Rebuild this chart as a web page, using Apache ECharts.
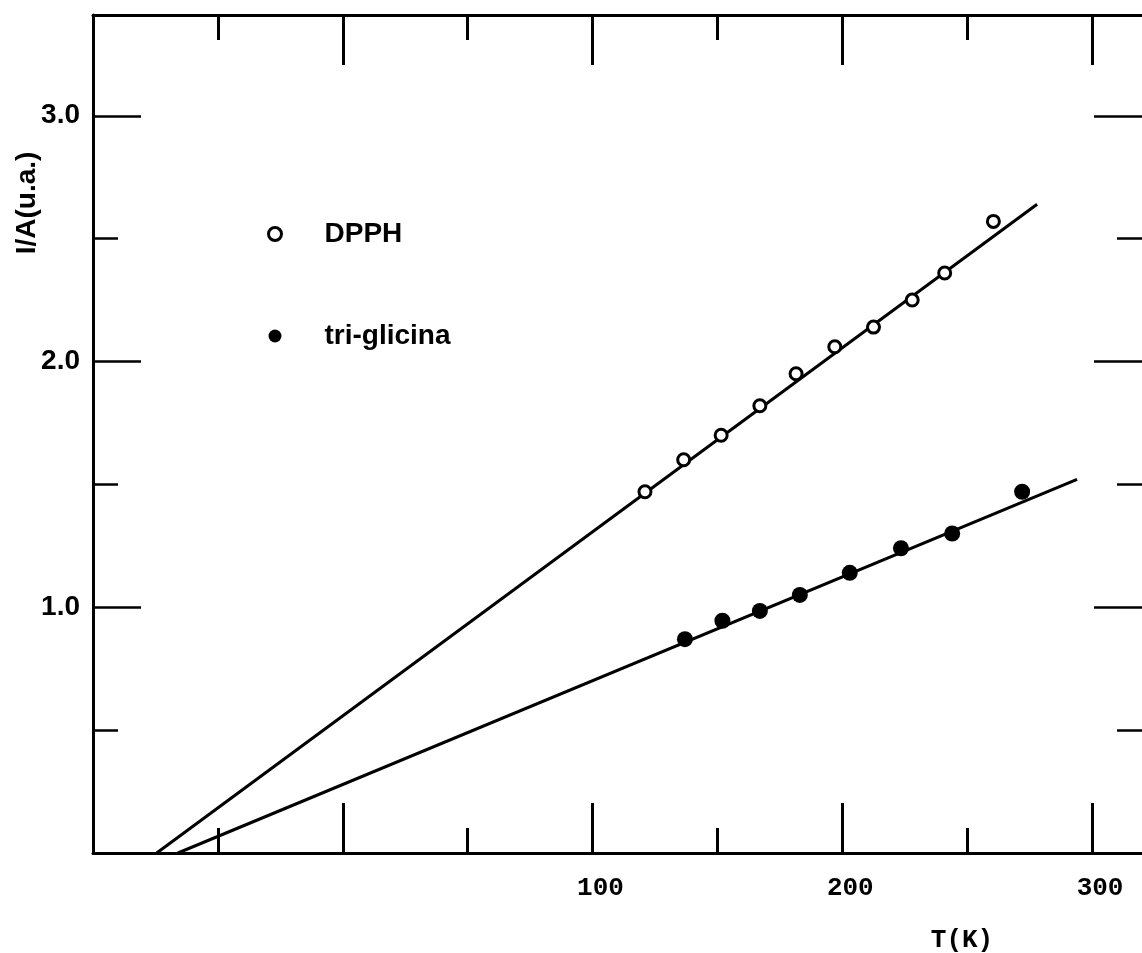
<!DOCTYPE html>
<html>
<head>
<meta charset="utf-8">
<script src="https://cdn.jsdelivr.net/npm/echarts@6/dist/echarts.min.js"></script>
<style>
  html, body { margin: 0; padding: 0; background: #fff; }
  #chart { width: 1142px; height: 953px; }
</style>
</head>
<body>
<div id="chart"></div>
<script>
// DPPH (open circles)
var dpphT = [121, 136.5, 151.5, 167, 181.5, 197, 212.5, 228, 241, 260.5];
var dpphY = [1.47, 1.60, 1.70, 1.82, 1.95, 2.06, 2.14, 2.25, 2.36, 2.57];
// tri-glicina (filled dots)
var triT = [137, 152, 167, 183, 203, 223.5, 244, 272];
var triY = [0.87, 0.945, 0.985, 1.05, 1.14, 1.24, 1.30, 1.47];
// fitted straight lines (ends)
var dpphFitT = [-74.5, 278];
var dpphFitY = [0, 2.64];
var triFitT = [-66, 294];
var triFitY = [0, 1.52];
// major ticks and labels
var xTicks = [-100, 0, 100, 200, 300];
var yTicks = [0, 1, 2, 3];
var xLabels = [100, 200, 300];
var yLabels = [1, 2, 3];

function pairs(xs, ys) {
    return xs.map(function (x, i) { return [x, ys[i]]; });
}

var chart = echarts.init(document.getElementById('chart'));

var tickStyle = { color: '#000', width: 3 };

function xAx(pos, labels) {
    return {
        type: 'value',
        position: pos,
        min: -100,
        max: 320,
        interval: 100,
        axisLine: { show: true, onZero: false, lineStyle: { color: '#000', width: 3 } },
        axisTick: { show: true, inside: true, length: 50, customValues: xTicks, lineStyle: tickStyle },
        minorTick: { show: true, splitNumber: 2, length: 25, lineStyle: tickStyle },
        splitLine: { show: false },
        minorSplitLine: { show: false },
        axisLabel: {
            show: labels,
            showMinLabel: false,
            showMaxLabel: false,
            margin: 22,
            padding: [0, 0, 0, 16],
            color: '#000',
            fontFamily: 'Liberation Mono',
            fontWeight: 'bold',
            fontSize: 26,
            formatter: function (v) {
                return xLabels.indexOf(v) >= 0 ? String(v) : '';
            }
        }
    };
}

function yAx(pos, labels) {
    return {
        type: 'value',
        position: pos,
        min: 0,
        max: 3.41,
        interval: 1,
        // right frame lies just outside the picture
        axisLine: { show: labels, onZero: false, lineStyle: { color: '#000', width: 3 } },
        axisTick: { show: true, inside: true, length: 48, customValues: yTicks, lineStyle: { color: '#000', width: 2.5 } },
        minorTick: { show: true, splitNumber: 2, length: 25, lineStyle: { color: '#000', width: 2.5 } },
        splitLine: { show: false },
        minorSplitLine: { show: false },
        axisLabel: {
            show: labels,
            showMaxLabel: false,
            margin: 13,
            color: '#000',
            fontFamily: 'Liberation Sans',
            fontWeight: 'bold',
            fontSize: 28,
            formatter: function (v) {
                return yLabels.indexOf(v) >= 0 ? v.toFixed(1) : '';
            }
        }
    };
}

var option = {
    animation: false,
    backgroundColor: '#fff',
    grid: { left: 93, top: 15, width: 1054, height: 838 },
    xAxis: [xAx('bottom', true), xAx('top', false)],
    yAxis: [yAx('left', true), yAx('right', false)],
    legend: {
        orient: 'vertical',
        left: 262,
        top: 215,
        itemWidth: 13,
        itemHeight: 13,
        itemGap: 74,
        selectedMode: false,
        textStyle: {
            color: '#000',
            fontFamily: 'Liberation Sans',
            fontWeight: 'bold',
            fontSize: 28,
            lineHeight: 28,
            padding: [0, 0, 0, 38]
        },
        data: [
            { name: 'DPPH', icon: 'circle', itemStyle: { color: '#fff', borderColor: '#000', borderWidth: 3 } },
            { name: 'tri-glicina', icon: 'circle', itemStyle: { color: '#000', borderWidth: 0 } }
        ]
    },
    graphic: [
        {
            type: 'text',
            x: 27,
            y: 203,
            rotation: Math.PI / 2,
            style: {
                text: 'I/A(u.a.)',
                fill: '#000',
                font: 'bold 28px "Liberation Sans"',
                align: 'center',
                verticalAlign: 'middle'
            }
        },
        {
            type: 'text',
            x: 962,
            y: 940,
            style: {
                text: 'T(K)',
                fill: '#000',
                font: 'bold 26px "Liberation Mono"',
                align: 'center',
                verticalAlign: 'middle'
            }
        }
    ],
    series: [
        {
            name: 'DPPH ajuste',
            type: 'line',
            data: pairs(dpphFitT, dpphFitY),
            symbol: 'none',
            lineStyle: { color: '#000', width: 3 },
            z: 2
        },
        {
            name: 'tri-glicina ajuste',
            type: 'line',
            data: pairs(triFitT, triFitY),
            symbol: 'none',
            lineStyle: { color: '#000', width: 3 },
            z: 2
        },
        {
            name: 'DPPH',
            type: 'scatter',
            data: pairs(dpphT, dpphY),
            symbol: 'circle',
            symbolSize: 12,
            itemStyle: { color: '#fff', borderColor: '#000', borderWidth: 3, opacity: 1 },
            z: 3
        },
        {
            name: 'tri-glicina',
            type: 'scatter',
            data: pairs(triT, triY),
            symbol: 'circle',
            symbolSize: 16,
            itemStyle: { color: '#000', opacity: 1 },
            z: 3
        }
    ]
};

chart.setOption(option);
</script>
</body>
</html>
